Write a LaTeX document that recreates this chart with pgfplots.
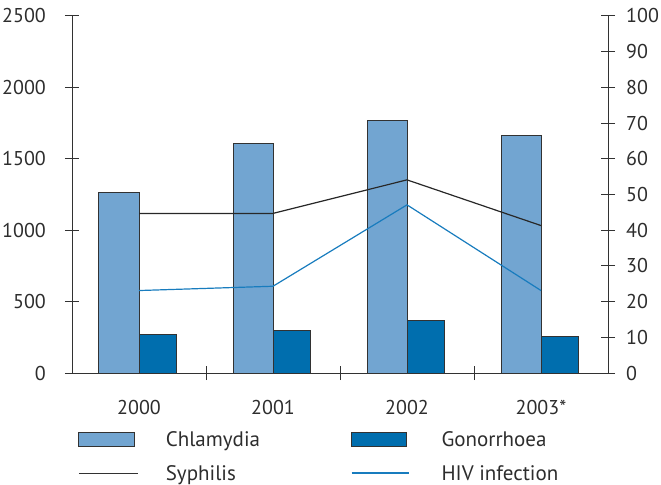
\documentclass[border=0pt]{standalone}
\usepackage{fontspec}
\setmainfont{PT Sans}
\usepackage{pgfplots}
\pgfplotsset{compat=1.18}
\definecolor{chl}{RGB}{114,165,209}
\definecolor{gon}{RGB}{0,110,174}
\definecolor{hiv}{RGB}{24,124,190}
\definecolor{edge}{RGB}{50,50,50}
\begin{document}
\fontsize{21bp}{25bp}\selectfont
\begin{tikzpicture}[font=\fontsize{21bp}{25bp}\selectfont]
\path[use as bounding box] (-72bp,-112bp) rectangle (589bp,373bp);
\pgfplotsset{
  common/.style={
    at={(0,0)}, anchor=south west,
    scale only axis, width=536bp, height=357bp,
    xmin=-0.5, xmax=3.5, ymin=0,
    tick align=center, major tick length=14bp, minor tick length=14bp,
    axis line style={edge, line width=1bp, -},
    every tick/.style={edge, line width=1bp},
    /pgf/number format/assume math mode=true,
    /pgf/number format/1000 sep={},
    tick label style={font=\fontsize{20bp}{24bp}\selectfont, text=edge!90!black},
  }
}
\begin{axis}[common,
  ymax=2500,
  axis y line*=left, axis x line*=bottom,
  ytick={0,500,...,2500},
  xtick={0,1,2,3}, xticklabels={2000,2001,2002,2003*},
  major x tick style={draw=none},
  minor xtick={0.5,1.5,2.5},
  xticklabel style={yshift=-13bp},
  yticklabel style={xshift=-12bp},
]
\addplot[ybar, bar width=40bp, bar shift=-20bp, fill=chl, draw=edge, line width=1bp]
  coordinates {(0,1265) (1,1604) (2,1765) (3,1662)};
\addplot[ybar, bar width=37bp, bar shift=18.5bp, fill=gon, draw=edge, line width=1bp]
  coordinates {(0,268) (1,299) (2,371) (3,254)};
\end{axis}
\begin{axis}[common,
  ymax=100,
  axis y line*=right, axis x line=none,
  ytick={0,10,...,100},
  yticklabel style={xshift=4bp},
  legend columns=2,
  legend cell align=left,
  legend style={draw=none, fill=none, inner sep=0pt, row sep=14bp,
    at={([xshift=6bp,yshift=-58bp]rel axis cs:0,0)}, anchor=north west,
    nodes={inner sep=0pt, text height=15bp, text depth=5bp, text=edge!90!black,
      font=\fontsize{21bp}{25bp}\selectfont}},
]
\addlegendimage{legend image code/.code={\path[draw=none,fill=none] (0bp,0bp) -- (87bp,0bp);
  \draw[fill=chl, draw=edge, line width=1bp] (0bp,-5bp) rectangle (56bp,9bp);}}
\addlegendentry{\makebox[185bp][l]{Chlamydia}}
\addlegendimage{legend image code/.code={\path[draw=none,fill=none] (0bp,0bp) -- (90bp,0bp);
  \draw[fill=gon, draw=edge, line width=1bp] (0bp,-5bp) rectangle (55bp,9bp);}}
\addlegendentry{Gonorrhoea}
\addlegendimage{legend image code/.code={\path[draw=none,fill=none] (0bp,0bp) -- (87bp,0bp);
  \draw[edge, line width=1.3bp] (0bp,2bp) -- (59bp,2bp);}}
\addlegendentry{Syphilis}
\addlegendimage{legend image code/.code={\path[draw=none,fill=none] (0bp,0bp) -- (90bp,0bp);
  \draw[draw=hiv, line width=1.5bp] (0bp,2bp) -- (57bp,2bp);}}
\addlegendentry{HIV infection}
\addplot[edge!80!black, line width=1.2bp, forget plot]
  coordinates {(0,44.7) (1,44.7) (2,54.1) (3,41.3)};
\addplot[hiv, line width=1.2bp, forget plot]
  coordinates {(0,23.1) (1,24.3) (2,47.1) (3,23.1)};
\end{axis}
\end{tikzpicture}
\end{document}
